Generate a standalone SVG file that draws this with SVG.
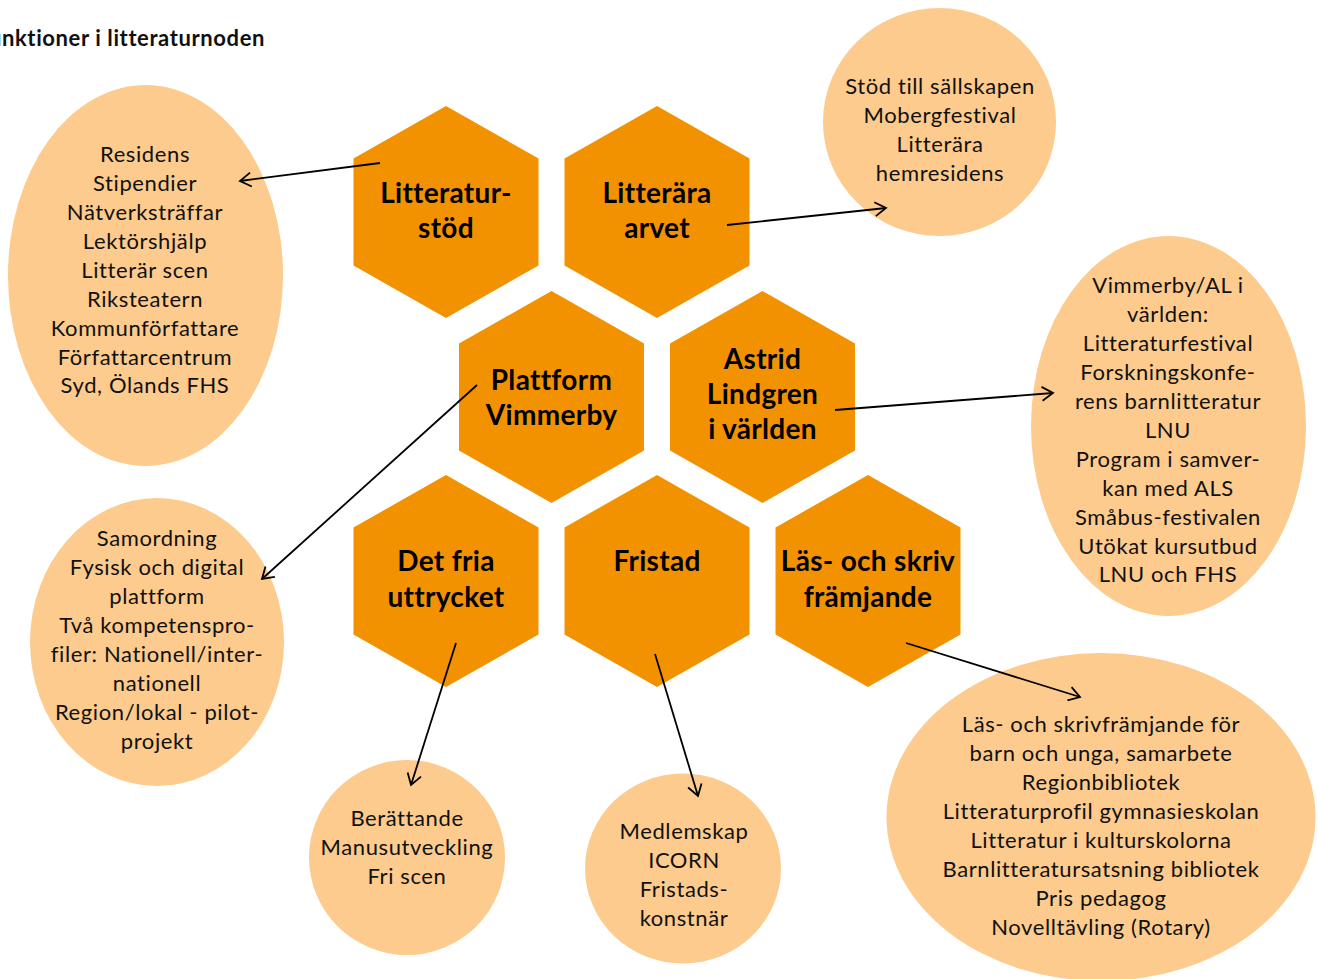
<svg xmlns="http://www.w3.org/2000/svg" width="1317" height="979" viewBox="0 0 1317 979">
<style>
.hex{fill:#F39200}
.ell{fill:#FCCB8D}
.ht{font-family:Lato,"Liberation Sans",sans-serif;font-weight:bold;font-size:28px;letter-spacing:0.3px;fill:#000;text-anchor:middle}
.et{font-family:Lato,"Liberation Sans",sans-serif;font-size:22px;letter-spacing:0.6px;fill:#111;text-anchor:middle}
.title{font-family:Lato,"Liberation Sans",sans-serif;font-weight:bold;font-size:22px;letter-spacing:0.6px;fill:#111;text-anchor:end}
.con line{stroke:#000;stroke-width:1.8;fill:none;marker-end:url(#arr)}
</style>
<defs>
<marker id="arr" markerUnits="userSpaceOnUse" markerWidth="16" markerHeight="16" viewBox="0 0 16 16" refX="13" refY="8" orient="auto">
<path d="M2,1 L13,8 L2,15" fill="none" stroke="#000" stroke-width="1.8"/>
</marker>
<polygon id="hx" points="0,-106 92.5,-53.5 92.5,53.5 0,106 -92.5,53.5 -92.5,-53.5"/>
</defs>
<rect width="1317" height="979" fill="#fff"/>
<text class="title" x="265" y="46">Funktioner i litteraturnoden</text>

<g id="ell-litteraturstod">
<ellipse class="ell" cx="145.5" cy="275.5" rx="137.5" ry="190.5"/>
<text class="et" x="145" y="162">Residens</text>
<text class="et" x="145" y="191">Stipendier</text>
<text class="et" x="145" y="220">Nätverksträffar</text>
<text class="et" x="145" y="249">Lektörshjälp</text>
<text class="et" x="145" y="278">Litterär scen</text>
<text class="et" x="145" y="307">Riksteatern</text>
<text class="et" x="145" y="336">Kommunförfattare</text>
<text class="et" x="145" y="365">Författarcentrum</text>
<text class="et" x="145" y="393">Syd, Ölands FHS</text>
</g>

<g id="ell-arvet">
<ellipse class="ell" cx="939.5" cy="122" rx="116.5" ry="114"/>
<text class="et" x="940" y="94">Stöd till sällskapen</text>
<text class="et" x="940" y="123">Mobergfestival</text>
<text class="et" x="940" y="152">Litterära</text>
<text class="et" x="940" y="181">hemresidens</text>
</g>

<g id="ell-astrid">
<ellipse class="ell" cx="1168.5" cy="426" rx="137.5" ry="190"/>
<text class="et" x="1168" y="293">Vimmerby/AL i</text>
<text class="et" x="1168" y="322">världen:</text>
<text class="et" x="1168" y="351">Litteraturfestival</text>
<text class="et" x="1168" y="380">Forskningskonfe-</text>
<text class="et" x="1168" y="409">rens barnlitteratur</text>
<text class="et" x="1168" y="438">LNU</text>
<text class="et" x="1168" y="467">Program i samver-</text>
<text class="et" x="1168" y="496">kan med ALS</text>
<text class="et" x="1168" y="525">Småbus-festivalen</text>
<text class="et" x="1168" y="554">Utökat kursutbud</text>
<text class="et" x="1168" y="582">LNU och FHS</text>
</g>

<g id="ell-plattform">
<ellipse class="ell" cx="157" cy="642" rx="127" ry="144"/>
<text class="et" x="157" y="546">Samordning</text>
<text class="et" x="157" y="575">Fysisk och digital</text>
<text class="et" x="157" y="604">plattform</text>
<text class="et" x="157" y="633">Två kompetenspro-</text>
<text class="et" x="157" y="662">filer: Nationell/inter-</text>
<text class="et" x="157" y="691">nationell</text>
<text class="et" x="157" y="720">Region/lokal - pilot-</text>
<text class="et" x="157" y="749">projekt</text>
</g>

<g id="ell-fria">
<ellipse class="ell" cx="407" cy="857.5" rx="98" ry="97.5"/>
<text class="et" x="407" y="826">Berättande</text>
<text class="et" x="407" y="855">Manusutveckling</text>
<text class="et" x="407" y="884">Fri scen</text>
</g>

<g id="ell-fristad">
<ellipse class="ell" cx="683" cy="868.5" rx="98" ry="95"/>
<text class="et" x="684" y="839">Medlemskap</text>
<text class="et" x="684" y="868">ICORN</text>
<text class="et" x="684" y="897">Fristads-</text>
<text class="et" x="684" y="926">konstnär</text>
</g>

<g id="ell-las">
<ellipse class="ell" cx="1101" cy="817" rx="214.5" ry="164"/>
<text class="et" x="1101" y="732">Läs- och skrivfrämjande för</text>
<text class="et" x="1101" y="761">barn och unga, samarbete</text>
<text class="et" x="1101" y="790">Regionbibliotek</text>
<text class="et" x="1101" y="819">Litteraturprofil gymnasieskolan</text>
<text class="et" x="1101" y="848">Litteratur i kulturskolorna</text>
<text class="et" x="1101" y="877">Barnlitteratursatsning bibliotek</text>
<text class="et" x="1101" y="906">Pris pedagog</text>
<text class="et" x="1101" y="935">Novelltävling (Rotary)</text>
</g>

<g id="hex-litteraturstod">
<use href="#hx" class="hex" x="446" y="212"/>
<text class="ht" x="446" y="203">Litteratur-</text>
<text class="ht" x="446" y="238">stöd</text>
</g>
<g id="hex-arvet">
<use href="#hx" class="hex" x="657" y="212"/>
<text class="ht" x="657" y="203">Litterära</text>
<text class="ht" x="657" y="238">arvet</text>
</g>
<g id="hex-plattform">
<use href="#hx" class="hex" x="551.5" y="397"/>
<text class="ht" x="551.5" y="390">Plattform</text>
<text class="ht" x="551.5" y="425">Vimmerby</text>
</g>
<g id="hex-astrid">
<use href="#hx" class="hex" x="762.5" y="397"/>
<text class="ht" x="762.5" y="369">Astrid</text>
<text class="ht" x="762.5" y="404">Lindgren</text>
<text class="ht" x="762.5" y="439">i världen</text>
</g>
<g id="hex-fria">
<use href="#hx" class="hex" x="446" y="581"/>
<text class="ht" x="446" y="571">Det fria</text>
<text class="ht" x="446" y="607">uttrycket</text>
</g>
<g id="hex-fristad">
<use href="#hx" class="hex" x="657" y="581"/>
<text class="ht" x="657" y="571">Fristad</text>
</g>
<g id="hex-las">
<use href="#hx" class="hex" x="868" y="581"/>
<text class="ht" x="868" y="571">Läs- och skriv</text>
<text class="ht" x="868" y="607">främjande</text>
</g>

<g id="connectors" class="con">
<line x1="380" y1="163" x2="240" y2="181"/>
<line x1="727" y1="225" x2="886" y2="208"/>
<line x1="835" y1="410" x2="1053" y2="393"/>
<line x1="477" y1="385" x2="262" y2="579"/>
<line x1="456" y1="643" x2="411" y2="785"/>
<line x1="655" y1="654" x2="698" y2="796"/>
<line x1="906" y1="643" x2="1080" y2="697"/>
</g>
</svg>
